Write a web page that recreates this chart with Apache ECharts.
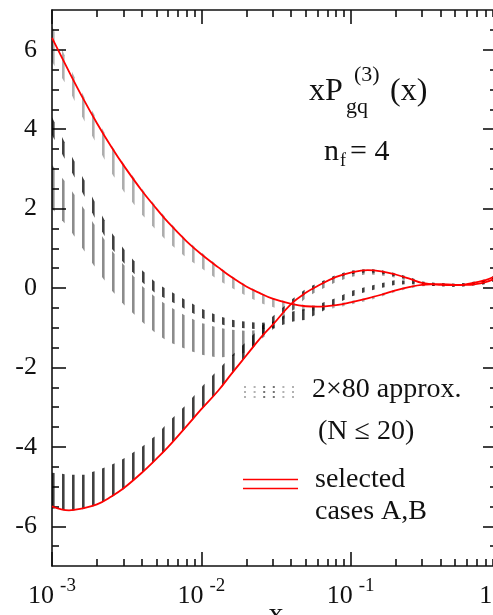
<!DOCTYPE html>
<html>
<head>
<meta charset="utf-8">
<script src="https://cdn.jsdelivr.net/npm/echarts@6/dist/echarts.min.js"></script>
<style>
html,body{margin:0;padding:0;background:#fff;}
#chart{width:493px;height:615px;}
</style>
</head>
<body>
<div id="chart"></div>
<script>
// ---- data ----
const xs = [0.001, 0.0013, 0.0016, 0.002, 0.0025, 0.003, 0.004, 0.005, 0.006, 0.008,
            0.01, 0.013, 0.016, 0.02, 0.025, 0.03, 0.04, 0.05, 0.06, 0.08,
            0.1, 0.13, 0.16, 0.2, 0.25, 0.3, 0.4, 0.5, 0.6, 0.8, 1.0];

// selected cases A and B (red)
const caseA = [6.3, 5.45, 4.8, 4.15, 3.55, 3.1, 2.45, 2.0, 1.65, 1.17,
               0.85, 0.52, 0.27, 0.04, -0.14, -0.27, -0.4, -0.46, -0.47, -0.43,
               -0.36, -0.26, -0.17, -0.06, 0.03, 0.08, 0.1, 0.08, 0.08, 0.15, 0.3];
const caseB = [-5.5, -5.6, -5.55, -5.45, -5.25, -5.05, -4.65, -4.3, -4.0, -3.47,
               -3.05, -2.58, -2.15, -1.7, -1.25, -0.93, -0.4, -0.12, 0.05, 0.28,
               0.39, 0.45, 0.42, 0.34, 0.23, 0.13, 0.08, 0.07, 0.1, 0.2, 0.35];

// envelopes of the bundles of 2x80 approximations (dotted)
const bundleUpperHi = [6.6, 5.6, 4.9, 4.25, 3.6, 3.15, 2.5, 2.05, 1.7, 1.2,
                       0.9, 0.55, 0.3, 0.07, -0.12, -0.25, -0.37, -0.43, -0.44, -0.4,
                       -0.33, -0.24, -0.14, -0.04, 0.05, 0.1, 0.12, 0.1, 0.1, 0.18, 0.33];
const bundleUpperLo = [5.7, 5.0, 4.3, 3.6, 2.9, 2.45, 1.85, 1.45, 1.15, 0.75,
                       0.5, 0.2, 0.0, -0.2, -0.38, -0.48, -0.55, -0.58, -0.56, -0.5,
                       -0.42, -0.32, -0.22, -0.1, 0.0, 0.05, 0.07, 0.05, 0.05, 0.1, 0.25];
const bundleMidHi = [4.3, 3.45, 2.8, 2.05, 1.4, 1.0, 0.45, 0.12, -0.05, -0.32,
                     -0.52, -0.7, -0.8, -0.85, -0.88, -0.85, -0.6, -0.52, -0.42, -0.25,
                     -0.08, 0.04, 0.12, 0.2, 0.18, 0.13, 0.1, 0.09, 0.1, 0.18, 0.3];
const bundleMidLo = [3.85, 3.05, 2.4, 1.65, 1.0, 0.65, 0.15, -0.15, -0.3, -0.55,
                     -0.75, -0.9, -0.98, -1.02, -1.04, -1.02, -0.85, -0.8, -0.65, -0.4,
                     -0.22, -0.08, 0.0, 0.08, 0.1, 0.07, 0.05, 0.05, 0.05, 0.1, 0.22];
const bundleGrayHi = [3.1, 2.55, 2.05, 1.5, 0.95, 0.6, 0.05, -0.25, -0.45, -0.72,
                      -0.88, -1.0, -1.05, -1.08, -1.05, -0.95, -0.45, -0.12, 0.03, 0.25,
                      0.37, 0.43, 0.4, 0.33, 0.23, 0.13, 0.1, 0.09, 0.1, 0.2, 0.35];
const bundleGrayLo = [2.0, 1.5, 1.0, 0.45, -0.05, -0.4, -0.85, -1.15, -1.35, -1.55,
                      -1.68, -1.75, -1.72, -1.62, -1.3, -1.05, -0.6, -0.25, -0.08, 0.15,
                      0.28, 0.35, 0.32, 0.26, 0.17, 0.08, 0.05, 0.04, 0.05, 0.12, 0.27];
const bundleLowHi = [-4.65, -4.7, -4.7, -4.6, -4.45, -4.3, -4.0, -3.7, -3.38, -2.92,
                     -2.5, -2.05, -1.7, -1.35, -0.98, -0.72, -0.3, -0.02, 0.12, 0.33,
                     0.44, 0.48, 0.45, 0.37, 0.27, 0.16, 0.11, 0.1, 0.12, 0.22, 0.37];
const bundleLowLo = [-5.55, -5.62, -5.57, -5.47, -5.27, -5.07, -4.67, -4.32, -4.02, -3.49,
                     -3.07, -2.6, -2.17, -1.72, -1.27, -0.95, -0.42, -0.14, 0.03, 0.25,
                     0.35, 0.4, 0.37, 0.3, 0.2, 0.1, 0.06, 0.05, 0.07, 0.14, 0.3];

// tick values
const yMajorTicks = [-6, -4, -2, 0, 2, 4, 6];
const yMinorTicks = [-6.5, -5.5, -5, -4.5, -3.5, -3, -2.5, -1.5, -1, -0.5,
                     0.5, 1, 1.5, 2.5, 3, 3.5, 4.5, 5, 5.5, 6.5];
const xMinorTicks = [0.002, 0.003, 0.004, 0.005, 0.006, 0.007, 0.008, 0.009,
                     0.02, 0.03, 0.04, 0.05, 0.06, 0.07, 0.08, 0.09,
                     0.2, 0.3, 0.4, 0.5, 0.6, 0.7, 0.8, 0.9];

// ---- chart ----
const FONT = '"Liberation Serif", "DejaVu Serif", serif';
const INK = '#111';
const chart = echarts.init(document.getElementById('chart'), null, {renderer: 'canvas'});

function bundleSeries(lo, hi, color) {
  return {
    type: 'custom',
    xAxisIndex: 0, yAxisIndex: 0,
    clip: true,
    silent: true,
    z: 2,
    data: xs.map((x, i) => [x, lo[i], hi[i]]),
    renderItem: function (params, api) {
      const i = params.dataIndex;
      if (i >= xs.length - 1) return null;
      const a0 = api.coord([xs[i], lo[i]]), b0 = api.coord([xs[i], hi[i]]);
      const a1 = api.coord([xs[i + 1], lo[i + 1]]), b1 = api.coord([xs[i + 1], hi[i + 1]]);
      const start = api.coord([xs[0], 0])[0];
      const step = 10, w = 2.6;
      const span = a1[0] - a0[0];
      const children = [];
      let k = Math.ceil((a0[0] - start) / step - 1e-9);
      for (let px = start + k * step; px < a1[0] - 1e-9; px += step) {
        const t0 = (px - a0[0]) / span, t1 = (px + w - a0[0]) / span;
        const yl0 = a0[1] + (a1[1] - a0[1]) * t0, yh0 = b0[1] + (b1[1] - b0[1]) * t0;
        const yl1 = a0[1] + (a1[1] - a0[1]) * t1, yh1 = b0[1] + (b1[1] - b0[1]) * t1;
        const pad0 = Math.max(0, 2.5 - (yl0 - yh0)) / 2, pad1 = Math.max(0, 2.5 - (yl1 - yh1)) / 2;
        children.push({
          type: 'polygon',
          shape: {points: [[px, yl0 + pad0], [px + w, yl1 + pad1], [px + w, yh1 - pad1], [px, yh0 - pad0]]},
          style: {fill: color}
        });
      }
      return {type: 'group', children: children};
    }
  };
}

const axisLineStyle = {color: INK, width: 1.6};
const baseX = {
  type: 'log', logBase: 10, min: 0.001, max: 1,
  splitLine: {show: false}, minorTick: {show: false}
};
const baseY = {type: 'value', min: -7, max: 7, splitLine: {show: false}};

const option = {
  backgroundColor: '#fff',
  animation: false,
  grid: {left: 52, right: -7, top: 10, bottom: 49, containLabel: false, outerBoundsMode: 'none'},
  xAxis: [
    Object.assign({}, baseX, {
      position: 'bottom',
      axisLine: {show: true, onZero: false, lineStyle: axisLineStyle},
      axisTick: {show: true, inside: true, length: 14, lineStyle: {color: INK, width: 1.6}},
      axisLabel: {
        show: true, margin: 11,
        formatter: function (v) {
          const e = Math.round(Math.log10(v));
          return '{b|10}{s|' + e + '}';
        },
        rich: {
          b: {fontFamily: FONT, fontSize: 26, color: INK, verticalAlign: 'bottom'},
          s: {fontFamily: FONT, fontSize: 19, color: INK, verticalAlign: 'bottom', padding: [0, 0, 13, 6]}
        }
      },
      name: 'x', nameLocation: 'middle', nameGap: 34, nameMoveOverlap: false,
      nameTextStyle: {fontFamily: FONT, fontSize: 30, color: INK, verticalAlign: 'top'}
    }),
    Object.assign({}, baseX, {
      position: 'top',
      axisLine: {show: true, onZero: false, lineStyle: axisLineStyle},
      axisTick: {show: true, inside: true, length: 14, lineStyle: {color: INK, width: 1.6}},
      axisLabel: {show: false}
    }),
    Object.assign({}, baseX, {
      position: 'bottom',
      axisLine: {show: false, onZero: false},
      axisTick: {show: true, inside: true, length: 7, customValues: xMinorTicks, lineStyle: {color: INK, width: 1.6}},
      axisLabel: {show: false}
    }),
    Object.assign({}, baseX, {
      position: 'top',
      axisLine: {show: false, onZero: false},
      axisTick: {show: true, inside: true, length: 7, customValues: xMinorTicks, lineStyle: {color: INK, width: 1.6}},
      axisLabel: {show: false}
    })
  ],
  yAxis: [
    Object.assign({}, baseY, {
      position: 'left',
      axisLine: {show: true, onZero: false, lineStyle: axisLineStyle},
      axisTick: {show: true, inside: true, length: 14, customValues: yMajorTicks, lineStyle: {color: INK, width: 1.6}},
      axisLabel: {show: true, customValues: yMajorTicks, margin: 15, fontFamily: FONT, fontSize: 26, color: INK}
    }),
    Object.assign({}, baseY, {
      position: 'left',
      axisLine: {show: false, onZero: false},
      axisTick: {show: true, inside: true, length: 7, customValues: yMinorTicks, lineStyle: {color: INK, width: 1.6}},
      axisLabel: {show: false}
    }),
    Object.assign({}, baseY, {
      position: 'right',
      axisLine: {show: true, onZero: false, lineStyle: axisLineStyle},
      axisTick: {show: true, inside: true, length: 17, customValues: yMajorTicks, lineStyle: {color: INK, width: 1.6}},
      axisLabel: {show: false}
    }),
    Object.assign({}, baseY, {
      position: 'right',
      axisLine: {show: false, onZero: false},
      axisTick: {show: true, inside: true, length: 10, customValues: yMinorTicks, lineStyle: {color: INK, width: 1.6}},
      axisLabel: {show: false}
    })
  ],
  series: [
    bundleSeries(bundleUpperLo, bundleUpperHi, 'rgba(0,0,0,0.32)'),
    bundleSeries(bundleGrayLo, bundleGrayHi, 'rgba(0,0,0,0.45)'),
    bundleSeries(bundleMidLo, bundleMidHi, 'rgba(0,0,0,0.75)'),
    bundleSeries(bundleLowLo, bundleLowHi, 'rgba(0,0,0,0.75)'),
    {
      name: 'A', type: 'line', xAxisIndex: 0, yAxisIndex: 0, z: 5,
      data: xs.map((x, i) => [x, caseA[i]]),
      smooth: 0.4, showSymbol: false, symbol: 'none',
      lineStyle: {color: '#ff0000', width: 1.8}
    },
    {
      name: 'B', type: 'line', xAxisIndex: 0, yAxisIndex: 0, z: 5,
      data: xs.map((x, i) => [x, caseB[i]]),
      smooth: 0.4, showSymbol: false, symbol: 'none',
      lineStyle: {color: '#ff0000', width: 1.8}
    }
  ],
  graphic: {
    elements: [
      // title xP_gq^(3)(x)
      {type: 'text', left: 309, top: 76, style: {text: 'xP', font: '32px ' + FONT, fill: INK}},
      {type: 'text', left: 354, top: 64, style: {text: '(3)', font: '22px ' + FONT, fill: INK}},
      {type: 'text', left: 346, top: 96, style: {text: 'gq', font: '22px ' + FONT, fill: INK}},
      {type: 'text', left: 390, top: 76, style: {text: '(x)', font: '32px ' + FONT, fill: INK}},
      // n_f = 4
      {type: 'text', left: 324, top: 137, style: {text: 'n', font: '30px ' + FONT, fill: INK}},
      {type: 'text', left: 340, top: 152, style: {text: 'f', font: '18px ' + FONT, fill: INK}},
      {type: 'text', left: 350, top: 137, style: {text: '= 4', font: '30px ' + FONT, fill: INK}},
      // legend: dotted marker
      {type: 'group', left: 244, top: 386, children: (function () {
        const c = [];
        for (let col = 0; col < 6; col++) {
          for (let row = 0; row < 3; row++) {
            c.push({type: 'rect', shape: {x: col * 9.6, y: row * 5, width: 2, height: 2},
                    style: {fill: (col === 2 || col === 3) ? 'rgba(0,0,0,0.55)' : 'rgba(0,0,0,0.3)'}});
          }
        }
        return c;
      })()},
      {type: 'text', left: 312, top: 376, style: {text: '2\u00d780 approx.', font: '28px ' + FONT, fill: INK}},
      {type: 'text', left: 318, top: 418, style: {text: '(N \u2264 20)', font: '28px ' + FONT, fill: INK}},
      // legend: red double line
      {type: 'line', shape: {x1: 243, y1: 479.5, x2: 298, y2: 479.5}, style: {stroke: '#ff0000', lineWidth: 1.6}},
      {type: 'line', shape: {x1: 243, y1: 488.5, x2: 298, y2: 488.5}, style: {stroke: '#ff0000', lineWidth: 1.6}},
      {type: 'text', left: 315, top: 466, style: {text: 'selected', font: '28px ' + FONT, fill: INK}},
      {type: 'text', left: 315, top: 498, style: {text: 'cases A,B', font: '28px ' + FONT, fill: INK}}
    ]
  }
};
chart.setOption(option);
</script>
</body>
</html>
